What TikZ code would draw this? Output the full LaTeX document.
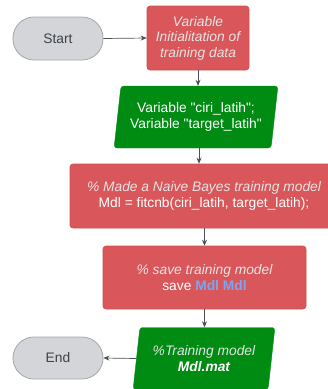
\documentclass[tikz,border=0pt]{standalone}
\usepackage{fontspec}
\setmainfont{Liberation Sans}
\usetikzlibrary{shapes.geometric,arrows.meta}
\definecolor{boxred}{HTML}{D9575A}
\definecolor{boxredline}{HTML}{C94C4F}
\definecolor{boxgreen}{HTML}{008C12}
\definecolor{termfill}{HTML}{D3D5D9}
\definecolor{termline}{HTML}{A3A7AB}
\definecolor{termtext}{HTML}{3C434B}
\definecolor{arrowc}{HTML}{4A5058}
\definecolor{lighttxt}{HTML}{E4E4E4}
\definecolor{codeblue}{HTML}{79A6F2}
\tikzset{
  x=1pt, y=-1pt,
  basefont/.style={font=\fontsize{13.8}{15.5}\selectfont, align=center, inner sep=0pt},
  terminal/.style={basefont, draw=termline, fill=termfill, text=termtext, line width=0.8pt,
    minimum width=90pt, minimum height=43pt, rounded corners=21pt},
  procbox/.style={basefont, draw=boxredline, fill=boxred, text=white, line width=0.6pt,
    rounded corners=3pt},
  iobox/.style={basefont, trapezium, trapezium left angle=78, trapezium right angle=102,
    trapezium stretches=true, draw=boxgreen, fill=boxgreen, text=white, rounded corners=3pt},
  conn/.style={draw=arrowc, line width=0.7pt, -{Stealth[length=6pt,width=5pt]}}
}
\begin{document}
\begin{tikzpicture}
\useasboundingbox (0,0) rectangle (328,389);
\node[terminal] (start) at (58,38.5) {Start};
\node[procbox, minimum width=102pt, minimum height=64pt] (init) at (198,38)
  {\color{lighttxt}\itshape Variable\\ \color{lighttxt}\itshape Initialitation of\\ \color{lighttxt}\itshape training data};
\node[iobox, minimum width=164pt, minimum height=62pt] (vars) at (196,117)
  {Variable \textquotedbl ciri\_latih\textquotedbl;\\ Variable \textquotedbl target\_latih\textquotedbl};
\node[procbox, minimum width=268pt, minimum height=64pt] (model) at (204,196)
  {\color{lighttxt}\itshape \% Made a Naive Bayes training model\\ Mdl = fitcnb(ciri\_latih, target\_latih);};
\node[procbox, minimum width=203pt, minimum height=63pt] (save) at (204.5,277.5)
  {\color{lighttxt}\itshape \% save training model\\ save \textcolor{codeblue}{\bfseries Mdl Mdl}};
\node[iobox, minimum width=142pt, minimum height=62pt] (mat) at (204,358.5)
  {\color{lighttxt}\itshape \%Training model\\ \bfseries\itshape Mdl.mat};
\node[terminal, minimum height=42pt] (end) at (58,358) {End};
\draw[conn] (start.east) -- (init.west);
\draw[conn] (init.south) -- (init.south |- vars.north);
\draw[conn] ([xshift=3pt]vars.south) -- ([xshift=3pt]vars.south |- model.north);
\draw[conn] (save.north |- model.south) -- (save.north);
\draw[conn] (save.south) -- (save.south |- mat.north);
\draw[conn] (mat.west) -- (end.east);
\end{tikzpicture}
\end{document}
